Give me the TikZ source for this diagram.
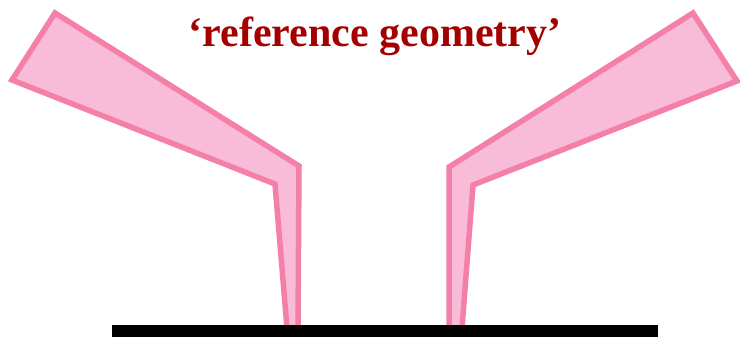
\documentclass[tikz,border=0pt]{standalone}
\usepackage{fontspec}
\setmainfont{Liberation Serif}
\definecolor{probefill}{RGB}{248,188,216}
\definecolor{probeline}{RGB}{244,128,170}
\definecolor{titlered}{RGB}{165,0,0}
\begin{document}
\begin{tikzpicture}[x=1pt,y=-1pt,
  probe/.style={fill=probefill,draw=probeline,line width=5.5pt,line join=miter},
  surface/.style={line width=12pt,black}]
\useasboundingbox (0,0) rectangle (740,340);
\draw[probe] (55,13) -- (12,80) -- (275,184) -- (287,328) -- (298,328) -- (299,166) -- cycle;
\draw[probe] (693,13) -- (737,81) -- (473,185) -- (462,328) -- (449,328) -- (449,167) -- cycle;
\coordinate (sl) at (112,331);
\coordinate (sr) at (658,331);
\draw[surface] (sl) -- (sr);
\node[anchor=base,inner sep=0pt,text=titlered,font=\fontsize{42}{46}\selectfont\bfseries] (title) at (375,46) {‘reference geometry’};
\end{tikzpicture}
\end{document}
